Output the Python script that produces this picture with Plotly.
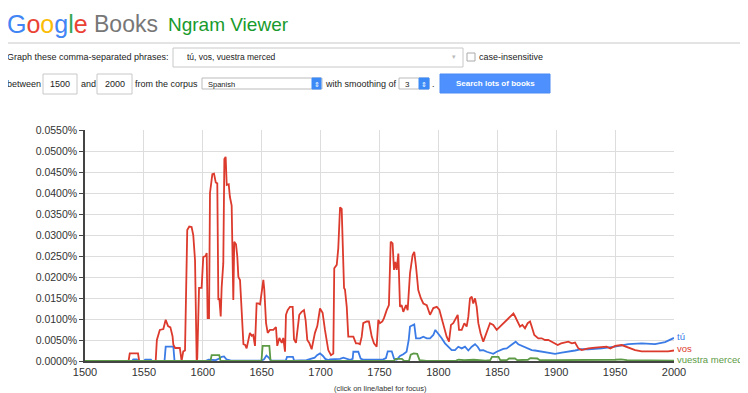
import plotly.graph_objects as go

# values are in percent (0.0486 -> 0.0486%)
vos_years = [
    1500, 1537, 1538, 1545, 1546, 1560, 1561, 1563.5, 1566.5, 1568.5, 1570.5, 1572.5,
    1574.3, 1575, 1576.5, 1580.5, 1582, 1583.4, 1584.9, 1586.8, 1588.5, 1590.5, 1591.9,
    1593.4, 1594.8, 1595.3, 1596.8, 1599, 1600.4, 1602.4, 1603.3, 1604.1, 1605.3, 1606.1,
    1608.1, 1609.5, 1611, 1612.3, 1613.2, 1614, 1615.2, 1616, 1617.4, 1618.3, 1619.4,
    1620.3, 1622, 1623, 1624.5, 1625.9, 1626.7, 1628.2, 1629.3, 1630.2, 1631.6, 1633,
    1633.9, 1634.5, 1636, 1637.2, 1640, 1641.5, 1642.8, 1644.3, 1645.7, 1647.1, 1648.6,
    1650, 1651.4, 1652.2, 1653.7, 1655.1, 1657, 1659.9, 1662.1, 1663.2, 1665, 1667,
    1668.3, 1669.8, 1670.6, 1672, 1674, 1676.3, 1677.4, 1679.1, 1680.5, 1681.9, 1683.9,
    1685.9, 1687.3, 1688.7, 1690.4, 1692.4, 1695.2, 1697.2, 1699.5, 1701.7, 1703.7,
    1706.5, 1708.8, 1710.8, 1711.6, 1713.7, 1715, 1716.5, 1717.9, 1718.8, 1719.9, 1720.7,
    1722.2, 1723.5, 1725.5, 1727.8, 1730, 1732, 1733.4, 1734.9, 1736.2, 1739.1, 1741,
    1743.4, 1745.3, 1747.6, 1749, 1750.4, 1752.4, 1753.8, 1756.1, 1758, 1759.5, 1761.1,
    1762.3, 1763.4, 1764.6, 1766, 1767.4, 1768.8, 1770.2, 1772.5, 1773.9, 1775.9, 1778.1,
    1779.5, 1781, 1782.9, 1785, 1787.2, 1790.1, 1792.9, 1795.7, 1798.6, 1800.8, 1803.7,
    1807, 1809, 1810.7, 1812.6, 1814.6, 1816.4, 1817.5, 1819.8, 1822, 1824, 1825.4,
    1826.8, 1828.3, 1829.6, 1831.1, 1832.5, 1833.9, 1835.8, 1838.1, 1839.6, 1841.8,
    1843.8, 1846.6, 1849.5, 1852.3, 1855.1, 1858, 1860.8, 1863.7, 1865.1, 1867.4, 1869.3,
    1871.3, 1873.5, 1875.8, 1877.8, 1879.2, 1881.4, 1884.8, 1887.7, 1890.5, 1893.3,
    1896.2, 1899, 1901.3, 1904.1, 1907.5, 1910.3, 1913.2, 1916, 1918.8, 1921.7, 1924.5,
    1927.3, 1933, 1938.6, 1942.8, 1946, 1950, 1955.6, 1961.3, 1967, 1972.6, 1981.1,
    1989.6, 1995, 2000,
]
vos_vals = [
    0, 0, 0.0018, 0.0018, 0, 0, 0.0050, 0.0074, 0.0076, 0.0098, 0.0083, 0.0080,
    0.0059, 0.0039, 0.0031, 0.0031, 0.0, 0.0023, 0.0025, 0.0312, 0.0320, 0.0319, 0.0300,
    0.0240, 0.0, 0.0006, 0.0174, 0.0174, 0.0248, 0.0250, 0.0257, 0.0102, 0.0102, 0.0400,
    0.0445, 0.0446, 0.0425, 0.0423, 0.0145, 0.0150, 0.0106, 0.0175, 0.0233, 0.0481, 0.0486,
    0.0419, 0.0421, 0.0391, 0.0370, 0.0145, 0.0284, 0.0278, 0.0248, 0.0200, 0.0193, 0.0113,
    0.0054, 0.0040, 0.0038, 0.0030, 0.0067, 0.0060, 0.0062, 0.0036, 0.0137, 0.0137, 0.0135,
    0.0169, 0.0193, 0.0170, 0.0090, 0.0067, 0.0074, 0.0074, 0.0081, 0.0036, 0.0055, 0.0043,
    0.0055, 0.0022, 0.0110, 0.0121, 0.0129, 0.0129, 0.0052, 0.0043, 0.0083, 0.0110, 0.0117,
    0.0121, 0.0097, 0.0050, 0.0043, 0.0028, 0.0067, 0.0083, 0.0125, 0.0115, 0.0074,
    0.0026, 0.0014, 0.0018, 0.0221, 0.0229, 0.0268, 0.0366, 0.0362, 0.0248, 0.0174, 0.0170,
    0.0129, 0.0058, 0.0058, 0.0058, 0.0042, 0.0042, 0.0040, 0.0058, 0.0090, 0.0094, 0.0094,
    0.0058, 0.0042, 0.0034, 0.0098, 0.0090, 0.0094, 0.0102, 0.0121, 0.0133, 0.0284, 0.0280,
    0.0217, 0.0236, 0.0217, 0.0256, 0.0129, 0.0133, 0.0117, 0.0133, 0.0121, 0.0209, 0.0252,
    0.0260, 0.0225, 0.0169, 0.0150, 0.0137, 0.0133, 0.0110, 0.0126, 0.0129, 0.0122, 0.0090,
    0.0058, 0.0046, 0.0086, 0.0090, 0.0102, 0.0110, 0.0074, 0.0074, 0.0090, 0.0082, 0.0105,
    0.0149, 0.0153, 0.0137, 0.0149, 0.0129, 0.0090, 0.0066, 0.0046, 0.0058, 0.0074,
    0.0090, 0.0086, 0.0074, 0.0082, 0.0090, 0.0098, 0.0106, 0.0113, 0.0106, 0.0094, 0.0082,
    0.0086, 0.0078, 0.0090, 0.0094, 0.0082, 0.0062, 0.0054, 0.0054, 0.0050, 0.0050,
    0.0046, 0.0042, 0.0038, 0.0042, 0.0044, 0.0046, 0.0042, 0.0044, 0.0030, 0.0026, 0.0028,
    0.0030, 0.0032, 0.0034, 0.0034, 0.0030, 0.0036, 0.0038, 0.0032, 0.0026, 0.0023, 0.0023,
    0.0022, 0.0023, 0.0025,
]

tu_years = [
    1500, 1540, 1541, 1544, 1545, 1550, 1551, 1556, 1557, 1567.5, 1568.5, 1575, 1576,
    1602, 1605, 1611, 1614, 1616, 1618, 1620, 1624, 1650, 1652, 1654, 1656, 1658,
    1670.5, 1671.5, 1676.5, 1677.5, 1688, 1692, 1695, 1697, 1699.5, 1702, 1704, 1706.5,
    1708, 1716.5, 1719.3, 1725, 1727.2, 1727.8, 1732, 1734, 1736.2, 1753.2, 1755.5, 1757,
    1760.4, 1762.3, 1764.6, 1767.4, 1770.2, 1773, 1774.8, 1775.9, 1778.1, 1779.5, 1781,
    1784.4, 1787.2, 1790.1, 1792.9, 1795.7, 1797.4, 1799.9, 1802.8, 1805.6, 1808.4,
    1811.3, 1814.1, 1816.9, 1819.8, 1822.6, 1825.4, 1828.3, 1831.1, 1833.3, 1835.3,
    1838.1, 1841, 1843.8, 1846.6, 1849.5, 1852.3, 1855.1, 1858, 1860.8, 1863.6, 1865.6,
    1867.8, 1870.7, 1873.5, 1876.3, 1879.2, 1882, 1887.7, 1893.3, 1899, 1904.7, 1910.3,
    1916, 1921.6, 1927.3, 1938.6, 1950, 1961.2, 1972.6, 1983.9, 1992.4, 2000,
]
tu_vals = [
    0, 0, 0.0004, 0.0004, 0, 0, 0.0003, 0.0003, 0, 0, 0.0034, 0.0034, 0,
    0, 0.0003, 0.0002, 0.0006, 0.0010, 0.0011, 0.0004, 0.0001, 0.0001, 0.0004, 0.0013, 0.0008, 0.0001,
    0.0001, 0.0010, 0.0010, 0.0001, 0.0002, 0.0005, 0.0008, 0.0014, 0.0018, 0.0012, 0.0005, 0.0002,
    0.0004, 0.0005, 0.0008, 0.0003, 0.0005, 0.0022, 0.0022, 0.0006, 0.0003, 0.0004, 0.0007, 0.0023,
    0.0023, 0.0006, 0.0003, 0.0012, 0.0016, 0.0022, 0.0050, 0.0082, 0.0086, 0.0087, 0.0054,
    0.0054, 0.0058, 0.0054, 0.0054, 0.0062, 0.0074, 0.0066, 0.0054, 0.0042, 0.0034,
    0.0026, 0.0026, 0.0034, 0.0030, 0.0034, 0.0025, 0.0034, 0.0040, 0.0034, 0.0025,
    0.0026, 0.0022, 0.0020, 0.0017, 0.0022, 0.0026, 0.0029, 0.0030, 0.0036, 0.0042, 0.0046,
    0.0040, 0.0036, 0.0033, 0.0030, 0.0026, 0.0025, 0.0022, 0.0020, 0.0017, 0.0020, 0.0022,
    0.0025, 0.0028, 0.0028, 0.0030, 0.0034, 0.0040, 0.0042, 0.0040, 0.0045, 0.0055,
]

vm_years = [
    1500, 1606.5, 1607.5, 1614, 1615, 1649.8, 1650.8, 1656.5, 1657.5, 1762, 1764, 1769,
    1771, 1775, 1776.5, 1779, 1782, 1784, 1790, 1800, 1815, 1817, 1822, 1830, 1840,
    1844, 1845.5, 1851, 1852.5, 1858, 1860, 1865, 1867, 1876, 1878, 1884, 1886, 1900,
    1920, 1930, 1950, 1955, 1960, 2000,
]
vm_vals = [
    0, 0, 0.0014, 0.0014, 0, 0, 0.0036, 0.0036, 0, 0, 0.0005, 0.0005,
    0, 0, 0.0015, 0.0018, 0.0017, 0.0002, 0, 0.0001, 0.0001, 0.0003, 0.0002, 0.0003, 0.0001,
    0.0002, 0.0010, 0.0010, 0.0002, 0.0002, 0.0006, 0.0006, 0.0002, 0.0003, 0.0007, 0.0006, 0.0002, 0.0002,
    0.0002, 0.0003, 0.0003, 0.0004, 0.0002, 0.0001,
]

series_names = ["tú", "vos", "vuestra merced"]
series_colors = ["#3b7be6", "#dc3a2c", "#5c9a45"]
label_rows = [336, 348, 359]
x_ticks = [1500, 1550, 1600, 1650, 1700, 1750, 1800, 1850, 1900, 1950, 2000]

FONT = "Liberation Sans, Arial, sans-serif"
# the page body has an 8px margin, so the figure is drawn 8px smaller
OFF = 8
W, H = 748 - OFF, 393 - OFF
PL, PT, PW, PH = 85, 130, 589, 231  # plot area in page pixels


def px(x):
    return (x - PL) / PW


def py(y):
    return 1 - (y - PT) / PH


def text(fig, x, y, s, size=9, color="#222", anchor="left"):
    fig.add_annotation(
        x=px(x), y=py(y), xref="paper", yref="paper", text=s, showarrow=False,
        xanchor=anchor, yanchor="middle", font=dict(family=FONT, size=size, color=color),
        borderpad=0,
    )


def box(fig, x0, y0, x1, y1, line="#c8c8c8", fill="white"):
    fig.add_shape(
        type="rect", xref="paper", yref="paper", x0=px(x0), x1=px(x1), y0=py(y1), y1=py(y0),
        line=dict(color=line, width=1), fillcolor=fill, layer="above",
    )


fig = go.Figure()
for name, xs, ys, col, row in zip(series_names, [tu_years, vos_years, vm_years],
                                   [tu_vals, vos_vals, vm_vals], series_colors, label_rows):
    fig.add_trace(go.Scatter(x=xs, y=ys, mode="lines", name=name,
                             line=dict(color=col, width=1.8), cliponaxis=False))
    text(fig, 676, row, name, size=9.5, color=col)

fig.update_layout(
    width=W, height=H,
    margin=dict(l=PL - OFF, r=W - (PL - OFF) - PW, t=PT - OFF, b=H - (PT - OFF) - PH),
    paper_bgcolor="white", plot_bgcolor="white", showlegend=False,
    font=dict(family=FONT, size=11, color="#444"),
)
fig.update_xaxes(
    range=[1500, 2000], tickvals=x_ticks, showgrid=True, gridcolor="#dddddd",
    showline=True, linecolor="#444", linewidth=1.5, ticks="", zeroline=False,
    tickfont=dict(size=11, color="#333"),
)
fig.update_yaxes(
    range=[0, 0.055], dtick=0.005, tickformat=".4f", ticksuffix="%", showgrid=True,
    gridcolor="#dddddd", showline=True, linecolor="#444", linewidth=1.5, ticks="outside",
    ticklen=4, tickcolor="#444", zeroline=False, tickfont=dict(size=10.5, color="#333"),
)

# page header
fig.add_annotation(
    x=px(6), y=py(24), xref="paper", yref="paper", showarrow=False, xanchor="left",
    yanchor="middle", borderpad=0, font=dict(family=FONT, size=25),
    text=("<span style='color:#4285f4'>G</span><span style='color:#ea4335'>o</span>"
          "<span style='color:#fbbc05'>o</span><span style='color:#4285f4'>g</span>"
          "<span style='color:#34a853'>l</span><span style='color:#ea4335'>e</span>"),
)
text(fig, 93, 24, "Books", size=23, color="#777")
text(fig, 167, 25, "Ngram Viewer", size=19, color="#189a2c")
fig.add_shape(type="line", xref="paper", yref="paper", x0=px(5), x1=px(748),
              y0=py(43), y1=py(43), line=dict(color="#c8c8c8", width=1))

text(fig, 6, 57, "Graph these comma-separated phrases:")
box(fig, 173, 48, 463, 67)
text(fig, 186, 57, "tú, vos, vuestra merced", size=8.5)
text(fig, 454, 57, "▾", size=7, color="#bbb", anchor="center")
box(fig, 467, 53, 475, 61, line="#aaa")
text(fig, 478, 57, "case-insensitive")

text(fig, 6, 84, "between")
box(fig, 43, 74, 77, 94)
text(fig, 60, 84, "1500", anchor="center")
text(fig, 80, 84, "and")
box(fig, 97, 74, 132, 94)
text(fig, 114.5, 84, "2000", anchor="center")
text(fig, 134, 84, "from the corpus")
box(fig, 202, 78, 322, 89, line="#bbb")
text(fig, 207, 84, "Spanish", size=7.5)
box(fig, 312, 78, 321, 89, line="#3d8af7", fill="#3d8af7")
text(fig, 316.5, 84, "⇕", size=7, color="white", anchor="center")
text(fig, 324, 84, "with smoothing of")
box(fig, 399, 78, 429, 89, line="#bbb")
text(fig, 404, 84, "3", size=8)
box(fig, 419, 78, 429, 89, line="#3d8af7", fill="#3d8af7")
text(fig, 424, 84, "⇕", size=7, color="white", anchor="center")
text(fig, 431, 84, ".")
box(fig, 440, 74, 550, 93, line="#4a8af4", fill="#4d90fe")
text(fig, 495, 83.5, "<b>Search lots of books</b>", size=8, color="white", anchor="center")

text(fig, 380, 388, "(click on line/label for focus)", size=7.5, color="#333", anchor="center")

fig.write_html("out.html")
